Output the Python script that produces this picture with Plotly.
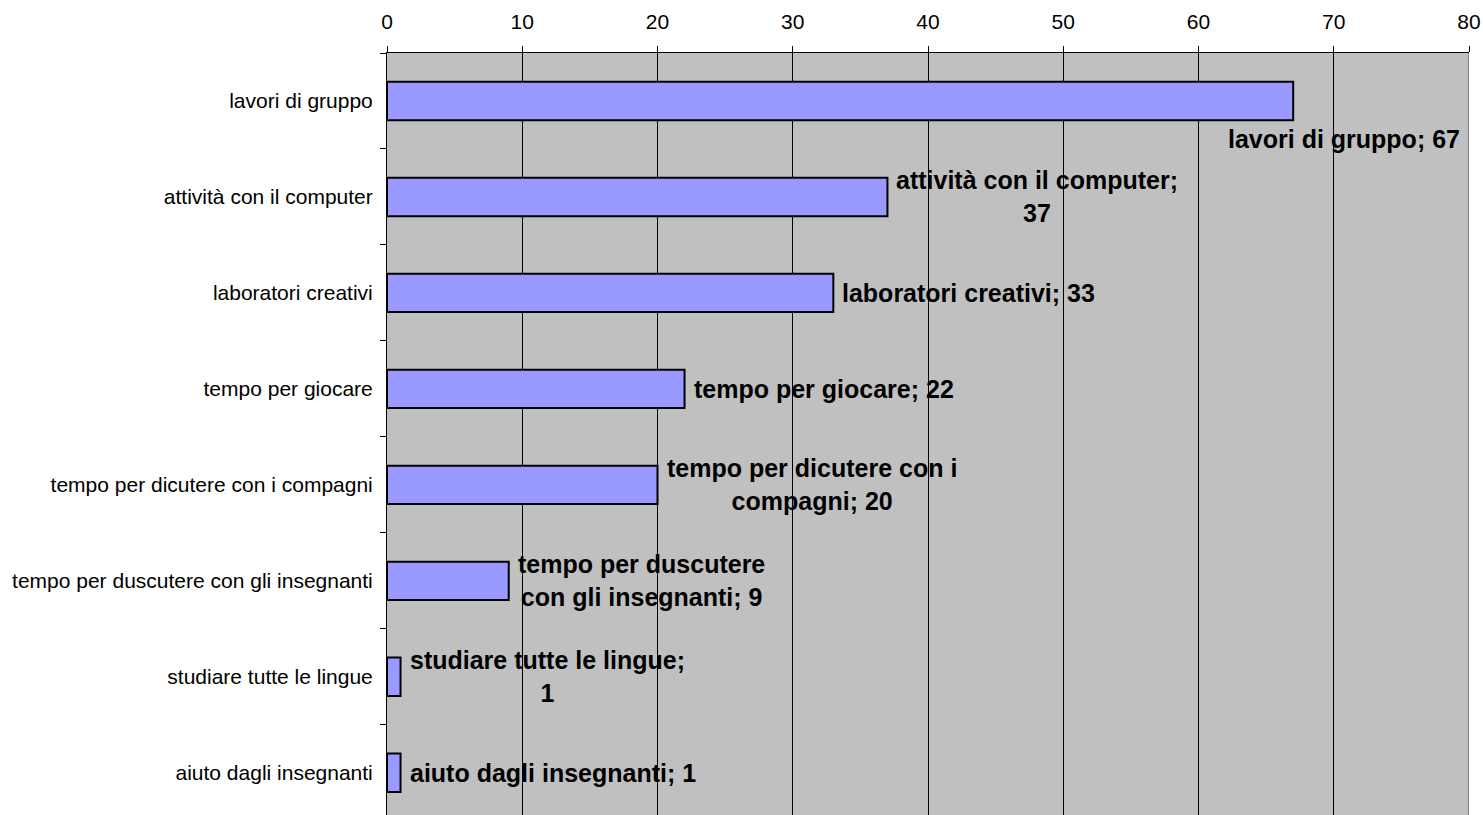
import plotly.graph_objects as go

categories = [
    "lavori di gruppo",
    "attività con il computer",
    "laboratori creativi",
    "tempo per giocare",
    "tempo per dicutere con i compagni",
    "tempo per duscutere con gli insegnanti",
    "studiare tutte le lingue",
    "aiuto dagli insegnanti",
]
values = [67, 37, 33, 22, 20, 9, 1, 1]

# data labels as Excel wrapped them
label_texts = [
    "lavori di gruppo; 67",
    "attività con il computer;<br>37",
    "laboratori creativi; 33",
    "tempo per giocare; 22",
    "tempo per dicutere con i<br>compagni; 20",
    "tempo per duscutere<br>con gli insegnanti; 9",
    "studiare tutte le lingue;<br>1",
    "aiuto dagli insegnanti; 1",
]

x_ticks = list(range(0, 81, 10))

fig = go.Figure()

fig.add_trace(go.Bar(
    y=categories,
    x=values,
    orientation="h",
    marker=dict(color="#9999FF", line=dict(color="black", width=2)),
    hoverinfo="x+y",
))

# labels: outside end of each bar, first one pushed inside the plot area
for i, (cat, val, txt) in enumerate(zip(categories, values, label_texts)):
    if i == 0:
        ann = dict(x=80, xanchor="right", xshift=-7, yshift=-38)
    else:
        ann = dict(x=val, xanchor="left", xshift=7)
    fig.add_annotation(
        y=cat, text=txt, showarrow=False, align="center",
        yanchor="middle",
        font=dict(family="Liberation Sans, Arial", size=25, color="black", weight="bold"),
        **ann
    )

# right border of the plot area
fig.add_shape(type="line", xref="x", yref="paper", x0=80, x1=80, y0=0, y1=1,
              line=dict(color="#808080", width=2))

fig.update_layout(
    width=1483, height=815,
    margin=dict(l=387, r=14, t=53, b=0),
    paper_bgcolor="white",
    plot_bgcolor="#C0C0C0",
    bargap=0.6,
    showlegend=False,
    font=dict(family="Liberation Sans, Arial", color="black"),
    xaxis=dict(
        side="top", range=[0, 80], tickvals=x_ticks,
        ticks="outside", ticklen=6, tickcolor="black",
        ticklabelstandoff=9, automargin=False,
        showline=True, linecolor="black", linewidth=1,
        showgrid=True, gridcolor="black", gridwidth=1,
        zeroline=False,
        tickfont=dict(size=21, color="black"),
    ),
    yaxis=dict(
        # last band runs past the bottom edge, like the original
        type="category", range=[7.44, -0.5],
        ticks="outside", ticklen=6, tickcolor="black", tickson="boundaries",
        ticklabelstandoff=9, automargin=False,
        showline=True, linecolor="black", linewidth=1,
        showgrid=False, zeroline=False,
        tickfont=dict(size=21, color="black"),
    ),
)

# drop the default 8px body margin so the figure fills the window exactly
fig.write_html("out.html",
               config={"displayModeBar": False},
               post_script="document.body.style.margin='0';document.body.style.overflow='hidden';")
